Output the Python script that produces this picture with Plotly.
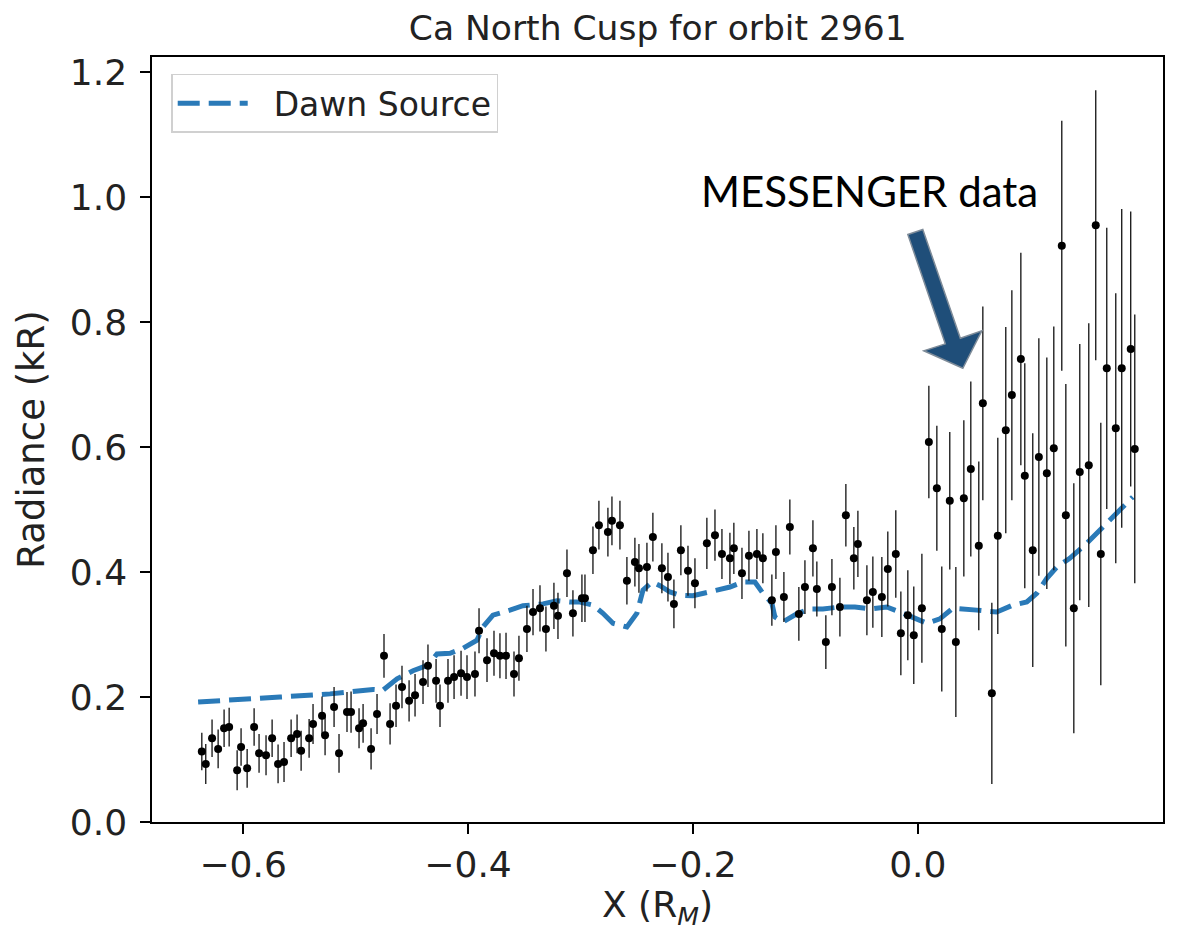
import plotly.graph_objects as go

# ---- MESSENGER data (X in R_M, radiance in kR, 1-sigma error) ----
x_data = [-0.6367, -0.6332, -0.6276, -0.6222, -0.6169, -0.6124, -0.6053, -0.6018, -0.5964, -0.5902,
          -0.5858, -0.5796, -0.5742, -0.5689, -0.5636, -0.5573, -0.552, -0.5484, -0.5413, -0.5378,
          -0.5298, -0.5271, -0.5191, -0.5147, -0.5076, -0.504, -0.4969, -0.4933, -0.4862, -0.4809,
          -0.4747, -0.4693, -0.464, -0.4587, -0.4524, -0.4471, -0.44, -0.4356, -0.4284, -0.4249,
          -0.4178, -0.4124, -0.4062, -0.4009, -0.3938, -0.3902, -0.3831, -0.3769, -0.3716, -0.3662,
          -0.3591, -0.3547, -0.3476, -0.3422, -0.336, -0.3307, -0.3236, -0.32, -0.312, -0.3067,
          -0.2987, -0.296, -0.2889, -0.2836, -0.2756, -0.272, -0.2649, -0.2587, -0.2516, -0.248,
          -0.2409, -0.2356, -0.2276, -0.2222, -0.2169, -0.2107, -0.2044, -0.1982, -0.1876, -0.1804,
          -0.1742, -0.1671, -0.1636, -0.1564, -0.1502, -0.1431, -0.1378, -0.1298, -0.1262, -0.1191,
          -0.1138, -0.1058, -0.1004, -0.0933, -0.0898, -0.0818, -0.0764, -0.0693, -0.064, -0.0569,
          -0.0533, -0.0453, -0.04, -0.032, -0.0267, -0.0196, -0.0151, -0.0089, -0.0036, 0.0036,
          0.0098, 0.0169, 0.0213, 0.0284, 0.0338, 0.0409, 0.0471, 0.0542, 0.0578, 0.0658,
          0.0711, 0.0782, 0.0836, 0.0916, 0.0951, 0.1022, 0.1076, 0.1147, 0.1209, 0.128,
          0.1316, 0.1387, 0.144, 0.152, 0.1582, 0.1627, 0.168, 0.176, 0.1813, 0.1893, 0.1929]

y_data = [0.113, 0.093, 0.134, 0.117, 0.150, 0.152, 0.083, 0.120, 0.086, 0.152,
          0.110, 0.107, 0.134, 0.093, 0.096, 0.134, 0.141, 0.114, 0.134, 0.157,
          0.170, 0.139, 0.184, 0.110, 0.176, 0.176, 0.150, 0.158, 0.117, 0.173,
          0.266, 0.157, 0.186, 0.216, 0.194, 0.203, 0.224, 0.250, 0.226, 0.186,
          0.226, 0.232, 0.238, 0.232, 0.237, 0.306, 0.259, 0.270, 0.266, 0.266,
          0.237, 0.262, 0.309, 0.336, 0.342, 0.309, 0.346, 0.330, 0.398, 0.334,
          0.358, 0.358, 0.435, 0.475, 0.464, 0.482, 0.475, 0.386, 0.416, 0.406,
          0.408, 0.456, 0.406, 0.392, 0.349, 0.435, 0.402, 0.382, 0.446, 0.459,
          0.429, 0.422, 0.438, 0.398, 0.426, 0.429, 0.422, 0.355, 0.432, 0.360,
          0.472, 0.333, 0.376, 0.438, 0.373, 0.288, 0.376, 0.344, 0.491, 0.422,
          0.445, 0.355, 0.368, 0.360, 0.405, 0.429, 0.302, 0.331, 0.299, 0.342,
          0.608, 0.534, 0.309, 0.514, 0.288, 0.518, 0.565, 0.442, 0.670, 0.206,
          0.458, 0.627, 0.683, 0.741, 0.554, 0.435, 0.584, 0.558, 0.598, 0.922,
          0.491, 0.342, 0.560, 0.571, 0.955, 0.429, 0.726, 0.630, 0.726, 0.757, 0.597]

y_err = [0.030, 0.032, 0.030, 0.031, 0.030, 0.031, 0.032, 0.030, 0.031, 0.030,
         0.031, 0.032, 0.030, 0.031, 0.032, 0.030, 0.031, 0.032, 0.031, 0.032,
         0.031, 0.032, 0.032, 0.031, 0.032, 0.033, 0.032, 0.031, 0.033, 0.032,
         0.035, 0.033, 0.034, 0.034, 0.033, 0.034, 0.035, 0.034, 0.035, 0.034,
         0.035, 0.035, 0.036, 0.035, 0.036, 0.036, 0.035, 0.036, 0.036, 0.037,
         0.036, 0.036, 0.037, 0.037, 0.037, 0.036, 0.037, 0.037, 0.038, 0.037,
         0.038, 0.038, 0.038, 0.039, 0.039, 0.039, 0.039, 0.038, 0.039, 0.039,
         0.039, 0.039, 0.040, 0.039, 0.039, 0.040, 0.040, 0.040, 0.041, 0.041,
         0.040, 0.041, 0.041, 0.041, 0.040, 0.040, 0.040,
         0.041, 0.043, 0.040, 0.044, 0.043, 0.043, 0.045, 0.044, 0.043, 0.045,
         0.047, 0.050, 0.050, 0.053, 0.056, 0.057, 0.064, 0.060,
         0.070, 0.067, 0.072, 0.078, 0.087, 0.090, 0.100, 0.100, 0.110, 0.120,
         0.125, 0.140, 0.135, 0.155, 0.145, 0.157, 0.165, 0.168, 0.170, 0.180,
         0.187, 0.190, 0.185, 0.195, 0.200, 0.210, 0.200, 0.205, 0.227, 0.216,
         0.210, 0.225, 0.216, 0.255, 0.220, 0.215]

# ---- Dawn Source model ----
model_x = [-0.64, -0.6027, -0.5671, -0.5227, -0.4844, -0.4756, -0.4631, -0.4489, -0.4356, -0.4276,
           -0.416, -0.4044, -0.392, -0.3867, -0.3778, -0.3627, -0.3511, -0.3333, -0.3209, -0.3093,
           -0.3004, -0.2889, -0.28, -0.2711, -0.2587, -0.2498, -0.2444, -0.2364, -0.2293, -0.2204,
           -0.2116, -0.2, -0.1911, -0.1787, -0.1671, -0.1556, -0.1449, -0.1378, -0.1298, -0.1271,
           -0.12, -0.1076, -0.096, -0.0844, -0.0693, -0.056, -0.0427, -0.0276, -0.016, -0.0044,
           0.008, 0.0196, 0.0311, 0.0524, 0.0702, 0.0844, 0.0969, 0.1058, 0.1147, 0.1236,
           0.1351, 0.1502, 0.1618, 0.1733, 0.1911]
model_y = [0.192, 0.197, 0.200, 0.205, 0.212, 0.211, 0.229, 0.242, 0.251, 0.269,
           0.270, 0.278, 0.291, 0.312, 0.331, 0.339, 0.346, 0.349, 0.354, 0.352,
           0.352, 0.347, 0.334, 0.318, 0.312, 0.334, 0.371, 0.384, 0.378, 0.368,
           0.363, 0.362, 0.365, 0.371, 0.376, 0.384, 0.384, 0.366, 0.350, 0.328,
           0.320, 0.333, 0.341, 0.341, 0.344, 0.344, 0.341, 0.344, 0.336, 0.328,
           0.318, 0.325, 0.342, 0.339, 0.336, 0.347, 0.352, 0.366, 0.390, 0.408,
           0.422, 0.446, 0.467, 0.488, 0.520]

x_ticks = [-0.6, -0.4, -0.2, 0.0]
y_ticks = [0.0, 0.2, 0.4, 0.6, 0.8, 1.0, 1.2]

# Call-out arrow outline (decoration, data coordinates)
arrow_x = [-0.0089, 0.0044, 0.0378, 0.0569, 0.0400, 0.0053, 0.0244]
arrow_y = [0.940, 0.948, 0.774, 0.786, 0.726, 0.754, 0.765]

FONT = "DejaVu Sans"

fig = go.Figure()

fig.add_trace(go.Scatter(
    x=model_x, y=model_y, mode="lines", name="\u00a0\u00a0Dawn Source",
    line=dict(color="#2a7ab8", width=5, dash="22px,9px"),
))

fig.add_trace(go.Scatter(
    x=x_data, y=y_data, mode="markers", name="MESSENGER", showlegend=False,
    marker=dict(color="black", size=8),
    error_y=dict(type="data", array=y_err, visible=True, color="#111",
                 thickness=1.3, width=0),
))

path = "M " + " L ".join(f"{a},{b}" for a, b in zip(arrow_x, arrow_y)) + " Z"
fig.add_shape(type="path", path=path, xref="x", yref="y",
              fillcolor="#1F4E79", line=dict(color="#7f8c99", width=1.5))

fig.add_annotation(x=-0.043, y=1.01, xref="x", yref="y", text="MESSENGER data",
                   showarrow=False, font=dict(family="Lato", size=42, color="black"))

fig.update_layout(
    width=1178, height=931,
    margin=dict(l=152, r=15, t=57, b=109),
    paper_bgcolor="white", plot_bgcolor="white",
    font=dict(family=FONT, size=34, color="black"),
    title=dict(text="Ca North Cusp for orbit 2961", x=0.5584, xanchor="center",
               y=0.97, yanchor="middle", font=dict(family=FONT, size=34.5, color="#222")),
    showlegend=True,
    legend=dict(x=0.019, y=0.978, xanchor="left", yanchor="top", itemwidth=70,
                bgcolor="rgba(255,255,255,0.9)", bordercolor="#d0d0d0", borderwidth=1.5,
                font=dict(family=FONT, size=33, color="#222")),
)

fig.update_xaxes(
    range=[-0.681, 0.218], tickvals=x_ticks, tickformat=".1f",
    showline=True, linecolor="black", linewidth=1.5, mirror=True,
    ticks="outside", ticklen=10, tickwidth=1.5, tickcolor="black",
    showgrid=False, zeroline=False,
    tickfont=dict(family=FONT, size=36, color="#222"),
    title=dict(text="X (R<sub><i>M</i></sub>)", font=dict(family=FONT, size=36, color="#222"),
               standoff=8),
)
fig.update_yaxes(
    range=[0, 1.224], tickvals=y_ticks, tickformat=".1f",
    showline=True, linecolor="black", linewidth=1.5, mirror=True,
    ticks="outside", ticklen=10, tickwidth=1.5, tickcolor="black",
    showgrid=False, zeroline=False, ticklabelstandoff=6,
    tickfont=dict(family=FONT, size=36, color="#222"),
    title=dict(text="Radiance (kR)", font=dict(family=FONT, size=37, color="#222"),
               standoff=14),
)

fig.write_html("out.html")
